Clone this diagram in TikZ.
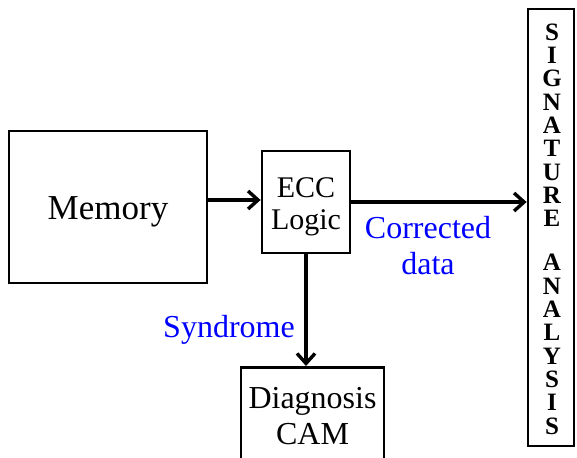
\documentclass[tikz,border=0pt]{standalone}
\usepackage{fontspec}
\setmainfont{Liberation Serif}
\usetikzlibrary{arrows.meta}
\begin{document}
\begin{tikzpicture}[x=1pt,y=-1pt,
  blk/.style={draw,line width=2.8pt,inner sep=0pt,align=center},
  txt/.style={inner sep=0pt,align=center},
  conn/.style={line width=3.4pt,-{Straight Barb[length=10pt,width=18pt,line width=3.4pt]}},
  lbl/.style={text=blue,font=\fontsize{32}{36}\selectfont,align=center,inner sep=0pt}]
\useasboundingbox (0,0) rectangle (577,457);
\clip (0,0) rectangle (577,457);
\node[blk,minimum width=198pt,minimum height=152pt] (mem) at (108,207) {};
\node[txt,font=\fontsize{35}{38}\selectfont] (memt) at (108,212) {Memory};
\node[blk,minimum width=88pt,minimum height=102pt] (ecc) at (306,202) {};
\node[txt,font=\fontsize{30}{32}\selectfont] (ecct) at (306,207) {ECC\\Logic};
\node[blk,minimum width=143pt,minimum height=100pt,anchor=north] (diag) at (312.5,366) {};
\node[txt,font=\fontsize{32}{36}\selectfont] (diagt) at (312.5,416) {Diagnosis\\CAM};
\node[blk,minimum width=46pt,minimum height=437pt] (sig) at (551,227.5) {};
\node[txt,font=\fontsize{25}{23.35}\selectfont\bfseries] (sigt) at (552,229)
  {S\\I\\G\\N\\A\\T\\U\\R\\E\\[20.6pt]A\\N\\A\\L\\Y\\S\\I\\S};
\draw[conn] (mem.east |- 0,200) -- (ecc.west |- 0,200);
\draw[conn] (ecc.east |- 0,202) -- (sig.west |- 0,202);
\draw[conn] (ecc.south) -- (ecc.south |- diag.north);
\node[lbl] (synd) at (229,330) {Syndrome};
\node[lbl] (corr) at (428,246) {Corrected\\data};
\end{tikzpicture}
\end{document}
